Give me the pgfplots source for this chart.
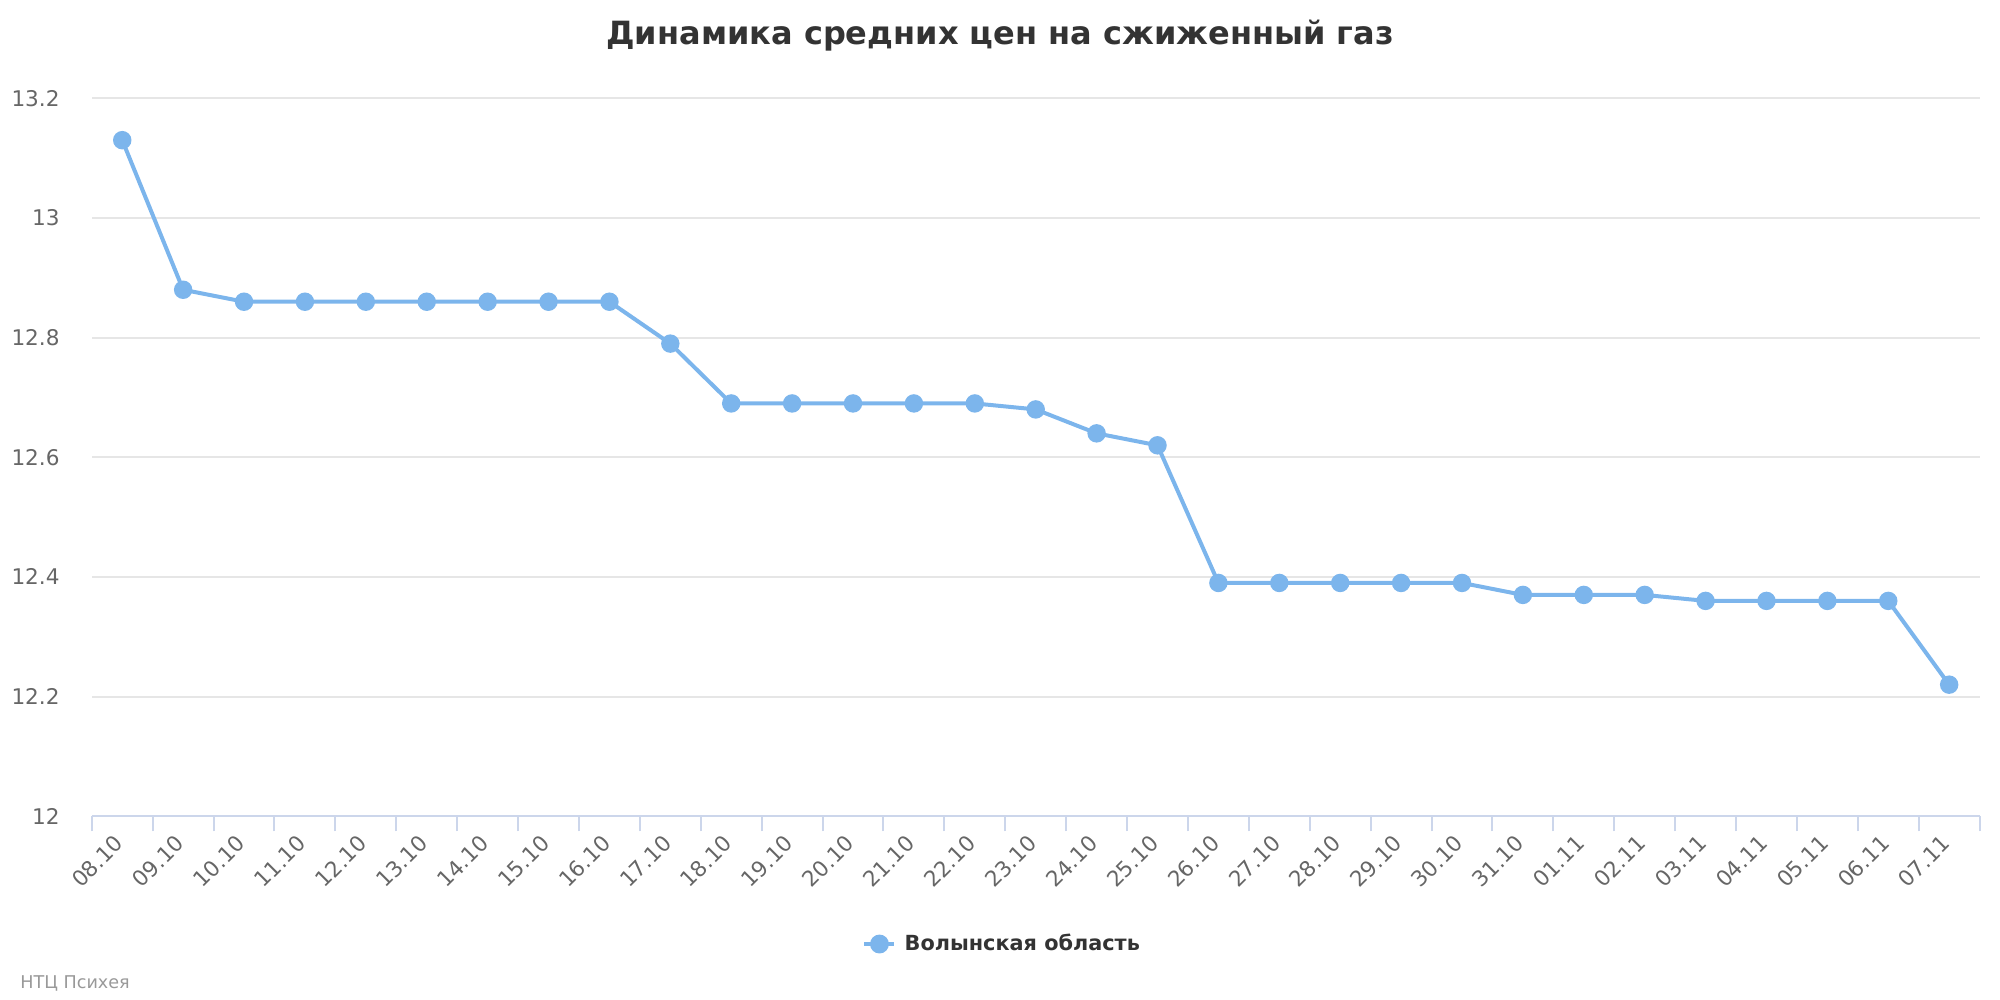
\documentclass[border=0pt]{standalone}
\usepackage{pgfplots}
\pgfplotsset{compat=1.18}
\usepackage{fontspec}
\setmainfont{DejaVu Sans}
\definecolor{hc}{HTML}{7CB5EC}
\definecolor{gridc}{HTML}{E6E6E6}
\definecolor{axisc}{HTML}{CCD6EB}
\definecolor{tickc}{HTML}{666666}
\definecolor{titlec}{HTML}{333333}
\definecolor{credc}{HTML}{999999}
\begin{document}
\begin{tikzpicture}[x=1pt,y=1pt]
\path[use as bounding box] (0,0) rectangle (1000,500);
\begin{axis}[
  at={(45.9pt,91.85pt)}, anchor=south west,
  scale only axis, width=943.9pt, height=359pt,
  xmin=-0.5, xmax=30.5, ymin=12, ymax=13.2,
  axis x line*=bottom, axis y line*=left,
  x axis line style={draw=axisc, line width=1pt, -},
  y axis line style={draw=none},
  ytick={12,12.2,12.4,12.6,12.8,13,13.2},
  yticklabels={12,12.2,12.4,12.6,12.8,13,13.2},
  ytick style={draw=none},
  ymajorgrids, major grid style={draw=gridc, line width=1pt},
  xtick={0,...,30},
  xticklabels={08.10,09.10,10.10,11.10,12.10,13.10,14.10,15.10,16.10,17.10,18.10,19.10,20.10,21.10,22.10,23.10,24.10,25.10,26.10,27.10,28.10,29.10,30.10,31.10,01.11,02.11,03.11,04.11,05.11,06.11,07.11},
  minor xtick={-0.5,0.5,...,30.5},
  tick align=outside,
  major tick length=0pt,
  minor tick length=7.5pt,
  minor tick style={draw=axisc, line width=1pt},
  major tick style={draw=none},
  /pgf/number format/assume math mode=true,
  yticklabel style={anchor=east, inner sep=0pt, xshift=-15.9pt, text=tickc, font=\fontsize{10.8}{13}\selectfont},
  xticklabel style={xshift=-1.4pt, yshift=-11.5pt, rotate=45, anchor=east, inner sep=0pt, text=tickc, font=\fontsize{10.8}{13}\selectfont},
  legend style={at={(0.4838,-0.1779)}, anchor=center, draw=none, fill=none,
    font=\bfseries\fontsize{10.4}{13}\selectfont, text=titlec,
    nodes={inner xsep=4pt}},
  legend image code/.code={\draw[#1, line width=2.2pt, mark repeat=2, mark phase=2] plot coordinates {(0pt,0pt) (7.5pt,0pt) (15pt,0pt)};},
  clip=false,
]
\addplot[color=hc, line width=2pt, mark=*, mark size=3.6pt, mark options={fill=hc, draw=none}] coordinates {
(0,13.13) (1,12.88) (2,12.86) (3,12.86) (4,12.86) (5,12.86) (6,12.86) (7,12.86) (8,12.86)
(9,12.79) (10,12.69) (11,12.69) (12,12.69) (13,12.69) (14,12.69) (15,12.68) (16,12.64)
(17,12.62) (18,12.39) (19,12.39) (20,12.39) (21,12.39) (22,12.39) (23,12.37) (24,12.37)
(25,12.37) (26,12.36) (27,12.36) (28,12.36) (29,12.36) (30,12.22)
};
\addlegendentry{Волынская область}
\end{axis}
\node[font=\bfseries\fontsize{16}{19}\selectfont, text=titlec] at (500,482) {Динамика средних цен на сжиженный газ};
\node[anchor=west, inner sep=0pt, font=\fontsize{8.8}{11}\selectfont, text=credc] at (10,8.5) {НТЦ Психея};
\end{tikzpicture}
\end{document}
